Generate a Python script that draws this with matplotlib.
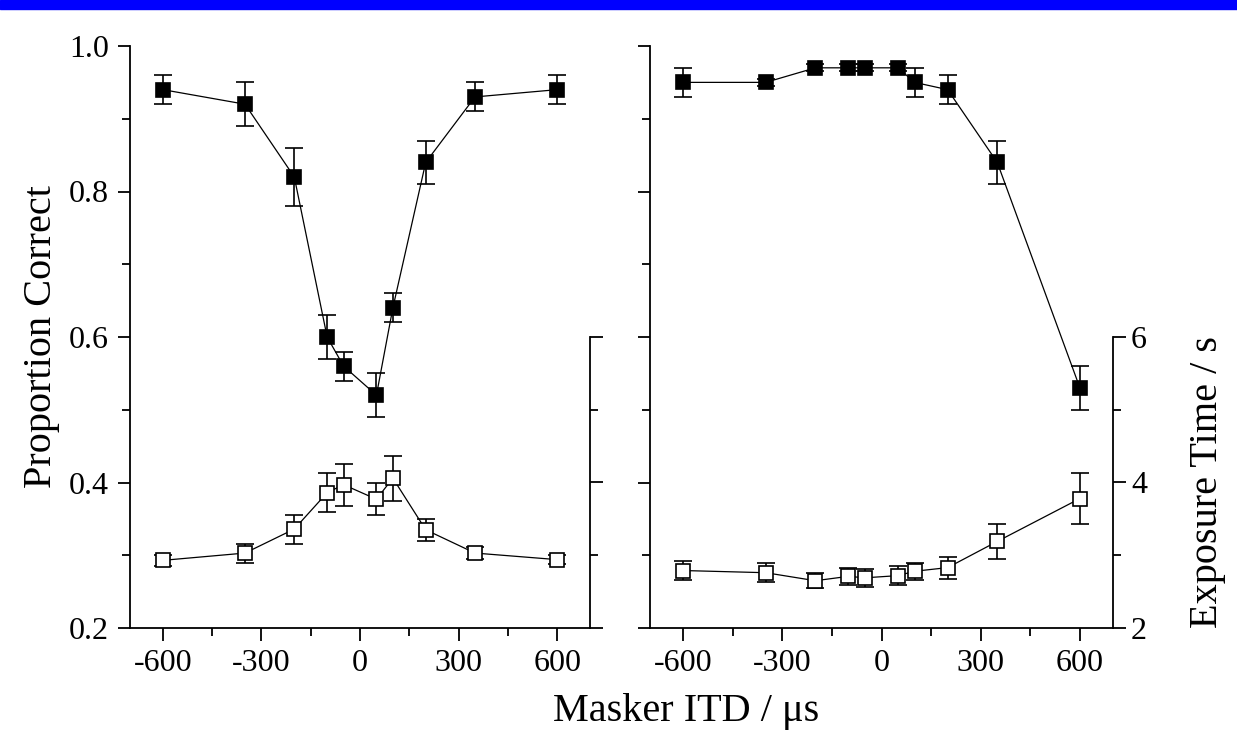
import matplotlib.pyplot as plt
from matplotlib.patches import Rectangle
from matplotlib.ticker import MultipleLocator, FormatStrFormatter

plt.rcParams['font.family'] = ['Liberation Serif', 'DejaVu Serif']
plt.rcParams['axes.unicode_minus'] = False

# masker ITD positions (us), same for both panels
itd = [-600, -350, -200, -100, -50, 50, 100, 200, 350, 600]

# left panel
left_prop = [0.94, 0.92, 0.82, 0.60, 0.56, 0.52, 0.64, 0.84, 0.93, 0.94]
left_prop_err = [0.02, 0.03, 0.04, 0.03, 0.02, 0.03, 0.02, 0.03, 0.02, 0.02]
left_time = [2.93, 3.03, 3.36, 3.86, 3.97, 3.77, 4.06, 3.35, 3.03, 2.94]
left_time_err = [0.08, 0.13, 0.20, 0.27, 0.29, 0.22, 0.31, 0.15, 0.08, 0.06]

# right panel
right_prop = [0.95, 0.95, 0.97, 0.97, 0.97, 0.97, 0.95, 0.94, 0.84, 0.53]
right_prop_err = [0.02, 0.005, 0.005, 0.005, 0.005, 0.005, 0.02, 0.02, 0.03, 0.03]
right_time = [2.79, 2.76, 2.65, 2.71, 2.69, 2.72, 2.78, 2.83, 3.19, 3.78]
right_time_err = [0.13, 0.13, 0.10, 0.12, 0.12, 0.13, 0.12, 0.15, 0.24, 0.35]

xticks = [-600, -300, 0, 300, 600]
yticks = [0.2, 0.4, 0.6, 0.8, 1.0]

TICK_FS = 23
LABEL_FS = 29
AX_LW = 1.3

fig = plt.figure(figsize=(12.37, 7.51), dpi=100)

# blue strip at the top (slide title band)
fig.patches.append(Rectangle((0, 1 - 9 / 751), 1, 9 / 751, transform=fig.transFigure,
                             color='#0000ff', zorder=0))

ax1 = fig.add_axes([130 / 1237, 123 / 751, 460 / 1237, 582 / 751])
ax2 = fig.add_axes([650 / 1237, 123 / 751, 463 / 1237, 582 / 751])


def draw_panel(ax, prop, prop_err, times, times_err, label_left, label_right):
    tw = ax.twinx()
    eb = dict(color='black', lw=0.9, elinewidth=1.2, capsize=6.5, capthick=1.2,
              marker='s', markersize=10.5, markeredgewidth=1.2, clip_on=False)
    ax.errorbar(itd, prop, yerr=prop_err, mfc='black', mec='black', zorder=3, **eb)
    tw.errorbar(itd, times, yerr=times_err, mfc='white', mec='black', zorder=3, **eb)

    ax.set_xlim(-700, 700)
    ax.set_ylim(0.2, 1.0)
    tw.set_ylim(2, 10)

    for s in ['top', 'right']:
        ax.spines[s].set_visible(False)
    for s in ['top', 'left', 'bottom']:
        tw.spines[s].set_visible(False)
    ax.spines['left'].set_linewidth(AX_LW)
    ax.spines['bottom'].set_linewidth(AX_LW)
    tw.spines['right'].set_linewidth(AX_LW)
    tw.spines['right'].set_bounds(2, 6)

    ax.set_xticks(xticks)
    ax.xaxis.set_minor_locator(MultipleLocator(150))
    ax.set_yticks(yticks)
    ax.yaxis.set_major_formatter(FormatStrFormatter('%.1f'))
    ax.set_yticks([0.3, 0.5, 0.7, 0.9], minor=True)
    tw.set_yticks([2, 4, 6])
    tw.set_yticks([3, 5], minor=True)

    ax.tick_params(which='major', direction='out', length=9, width=AX_LW, labelsize=TICK_FS,
                   labelleft=label_left, pad=6)
    ax.tick_params(which='minor', direction='out', length=6, width=AX_LW)
    tw.tick_params(which='major', direction='out', length=9, width=AX_LW, labelsize=TICK_FS,
                   labelright=label_right, pad=4)
    tw.tick_params(which='minor', direction='out', length=6, width=AX_LW)
    return tw


draw_panel(ax1, left_prop, left_prop_err, left_time, left_time_err, True, False)
draw_panel(ax2, right_prop, right_prop_err, right_time, right_time_err, False, True)

fig.text(42 / 1237, 1 - 337 / 751, 'Proportion Correct', fontsize=LABEL_FS,
         rotation=90, ha='center', va='center')
fig.text(1208 / 1237, 1 - 482 / 751, 'Exposure Time / s', fontsize=LABEL_FS,
         rotation=90, ha='center', va='center')
fig.text(686 / 1237, 1 - 712 / 751, 'Masker ITD / μs', fontsize=LABEL_FS,
         ha='center', va='center')

fig.savefig('out.png', dpi=100)
